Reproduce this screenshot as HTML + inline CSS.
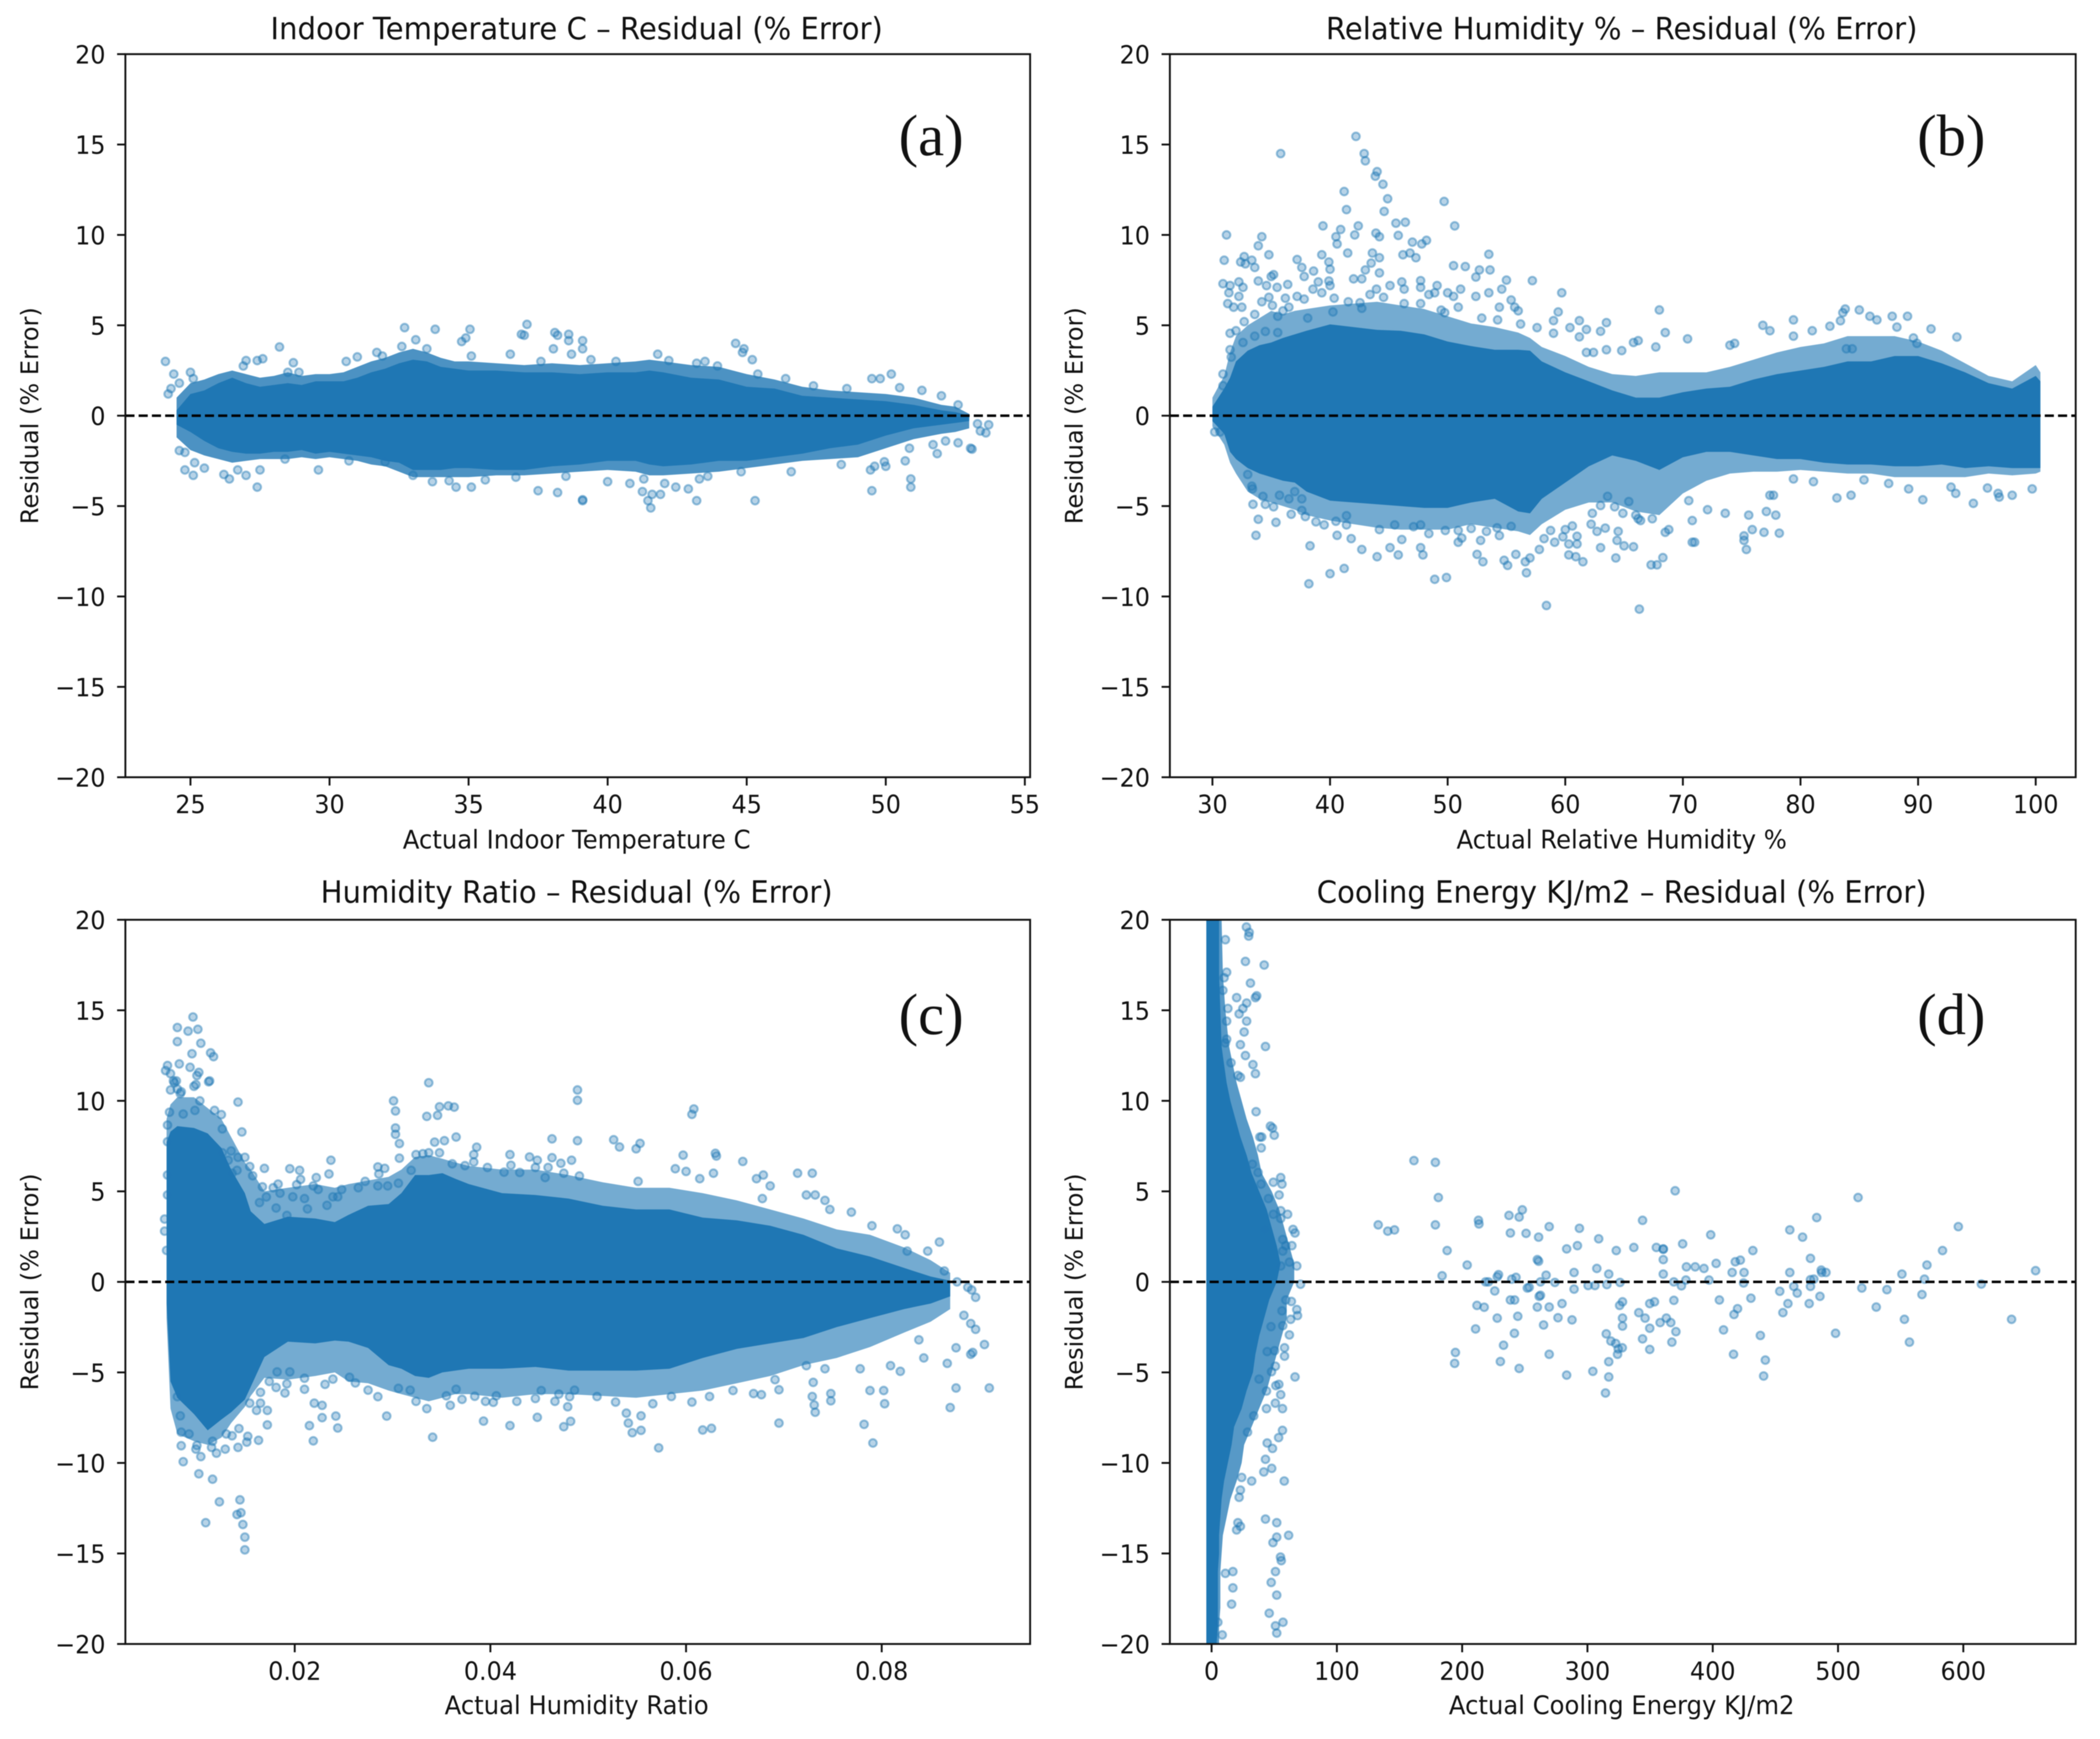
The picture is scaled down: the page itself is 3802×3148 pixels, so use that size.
<!DOCTYPE html>
<html lang="en">
<head>
<meta charset="utf-8">
<title>Residual (% Error) scatter panels</title>
<style>
html,body{margin:0;padding:0;background:#fff;}
svg{display:block;filter:blur(0.9px);}
text{font-family:"DejaVu Sans",sans-serif;fill:#111;}
.panel-letter{font-family:"Liberation Serif",serif;font-size:106px;fill:#111;}
</style>
</head>
<body>
<svg id="chart" xmlns="http://www.w3.org/2000/svg" width="3802" height="3148" viewBox="0 0 3802 3148">
<rect x="0" y="0" width="3802" height="3148" fill="#ffffff"></rect>
</svg>
<script>
/* ---------- shared tick labels ---------- */
const residualTicks = [20,15,10,5,0,-5,-10,-15,-20];

/* ---------- panel (a) indoor temperature ---------- */
const aTicksX = [25,30,35,40,45,50,55];
const aBandX = [24.5,25,25.5,26,26.5,27,27.5,28,28.5,29,29.5,30,30.5,31,31.5,32,32.5,33,33.5,34,34.5,35,36,37,38,39,40,41,41.5,42,43,44,45,46,47,48,49,50,51,52,52.5,53];
const aBandUpper = [0.3,1.2,1.4,1.8,2.1,1.8,1.6,1.7,1.8,1.7,1.9,1.9,1.9,2.1,2.4,2.6,2.9,3.1,3,2.7,2.6,2.5,2.5,2.4,2.4,2.3,2.4,2.4,2.5,2.4,2.1,2,1.6,1.5,1.1,1,0.9,0.8,0.6,0.3,0.2,0];
const aBandLower = [-0.5,-0.9,-1.4,-1.8,-2,-2.1,-2.1,-2,-2,-1.9,-2.1,-2,-2.1,-2.2,-2.3,-2.5,-2.6,-3,-3,-3,-2.9,-2.9,-3,-3,-2.8,-2.7,-2.5,-2.5,-2.7,-2.8,-2.7,-2.5,-2.5,-2.3,-2.1,-1.8,-1.6,-1.1,-0.7,-0.5,-0.4,-0.3];
const aHazeUpper = [1,1.8,2,2.3,2.5,2.3,2.1,2.2,2.4,2.2,2.3,2.3,2.4,2.7,3,3.2,3.5,3.7,3.5,3.2,3,3,2.9,2.8,2.9,2.8,2.9,3,3.1,3,2.8,2.7,2.3,2,1.6,1.4,1.3,1.2,1,0.6,0.5,0.1];
const aHazeLower = [-1.2,-1.9,-2.2,-2.4,-2.6,-2.5,-2.4,-2.4,-2.4,-2.3,-2.4,-2.3,-2.4,-2.5,-2.7,-2.8,-3.1,-3.4,-3.4,-3.4,-3.4,-3.4,-3.3,-3.3,-3.2,-3.1,-3,-3.1,-3.3,-3.3,-3.2,-3.1,-2.9,-2.7,-2.5,-2.4,-2.3,-1.8,-1.3,-1,-0.9,-0.7];
const aOutliers = [[24.1,3],[24.4,2.3],[25,2.4],[25.1,2.05],[24.3,1.5],[24.2,1.2],[24.6,1.8],[26.9,2.75],[27,3.05],[27.4,3.05],[27.6,3.15],[28.2,3.8],[28.7,2.93],[28.5,2.4],[28.9,2.4],[30.6,3],[31,3.25],[31.7,3.5],[31.9,3.3],[32.7,4.87],[32.6,3.83],[33.1,4.2],[33.5,3.7],[33.8,4.78],[34.75,4.1],[34.9,4.3],[35.05,4.78],[35.1,3.3],[36.5,3.4],[36.9,4.5],[37,4.45],[37.1,5.05],[38.05,3.7],[38.1,4.6],[38.2,4.45],[38.6,4.5],[38.6,4.15],[38.7,3.4],[39.1,4.15],[39.1,3.7],[37.6,3],[39.4,3.1],[40.3,3],[41.8,3.4],[42.2,3.05],[43.2,2.9],[43.5,3],[43.95,2.75],[44.6,4],[44.9,3.7],[44.85,3.5],[45.2,3.1],[45.4,2.3],[46.4,2.05],[47.4,1.65],[48.6,1.5],[49.5,2.05],[49.8,2.05],[50.2,2.3],[50.5,1.55],[51.3,1.4],[52,1.1],[52.6,0.6],
[24.6,-1.93],[24.8,-2.03],[24.8,-3],[25.15,-2.6],[25.1,-3.3],[25.5,-2.9],[26.2,-3.25],[26.4,-3.5],[26.7,-3],[27,-3.3],[27.4,-3.95],[27.5,-3],[29.6,-3],[28.4,-2.4],[30.7,-2.5],[32,-2.55],[33,-3.3],[33.7,-3.65],[34.3,-3.6],[34.55,-3.95],[35.1,-3.95],[35.6,-3.55],[36.7,-3.4],[37.5,-4.15],[38.2,-4.25],[38.5,-3.35],[39.1,-4.65],[39.1,-4.7],[40,-3.65],[40.8,-3.75],[41.3,-3.5],[41.25,-4.2],[41.45,-4.7],[41.55,-5.1],[41.6,-4.35],[41.9,-4.35],[42.05,-3.75],[42.45,-3.95],[42.9,-4.05],[43.2,-4.7],[43.3,-3.5],[43.6,-3.35],[45.3,-4.7],[44.8,-3.1],[46.6,-3.1],[48.4,-2.7],[49.45,-3],[49.6,-2.8],[49.95,-2.55],[50,-2.8],[49.5,-4.15],[50.7,-2.5],[50.9,-3.5],[50.9,-3.95],[50.85,-1.8],[51.7,-1.6],[51.85,-2.1],[52.15,-1.4],[52.6,-1.5],[53.05,-1.8],[53.1,-1.85],[53.6,-0.95],[53.7,-0.5],[53.4,-0.85],[53.3,-0.45]];

/* ---------- panel (b) relative humidity ---------- */
const bTicksX = [30,40,50,60,70,80,90,100];
const bBandX = [30,31,31.5,32,33,34,35,36,37,38,40,42,44,46,48,50,52,54,56,57,58,60,62,64,66,68,70,72,74,76,78,80,82,84,86,88,90,92,94,96,98,100,100.4];
const bBandUpper = [0.5,1.5,2.1,3,3.6,3.9,4.05,4.3,4.5,4.7,5.05,4.9,4.75,4.7,4.5,4.1,3.85,3.65,3.65,3.6,3,2.4,1.9,1.4,1,1,1.3,1.5,1.6,2,2.3,2.5,2.7,3,3,3.3,3.3,2.9,2.4,1.8,1.5,2.2,1.9];
const bBandLower = [-0.3,-1,-2,-2.4,-2.9,-3.2,-3.4,-3.6,-3.7,-4.2,-4.7,-4.8,-4.9,-5,-5.1,-5.1,-4.8,-4.6,-5.3,-5.4,-4.6,-3.7,-2.8,-2.2,-2.5,-3,-2.3,-2,-2,-2.2,-2.4,-2.4,-2.6,-2.7,-2.7,-2.8,-2.8,-2.7,-2.9,-2.8,-2.9,-2.9,-2.9];
const bHazeUpper = [1,2.2,3.5,4.4,5,5.4,5.8,5.6,5.8,5.9,6.1,6.2,6.3,6.1,5.9,5.5,5.1,4.9,4.6,4.3,3.8,3.3,2.7,2.3,2.2,2.4,2.4,2.4,2.7,3.1,3.5,3.8,4,4.4,4.4,4.4,4.1,3.6,2.9,2.2,1.9,2.8,2.4];
const bHazeLower = [-0.6,-1.6,-2.6,-3.2,-4.2,-4.6,-4.8,-5,-5.2,-5.5,-5.8,-6,-6.2,-6.3,-6.3,-6.3,-6,-6.2,-6.4,-6.6,-6,-5.2,-4.8,-4.8,-5.3,-5.5,-4.3,-3.6,-3.2,-3.1,-3.1,-3,-3.1,-3.2,-3.2,-3.4,-3.4,-3.4,-3.4,-3.2,-3.3,-3.2,-3.1];
const bUpperFringe = [[35.8,14.5],[42.2,15.45],[42.9,14.5],[43,14.1],[44,13.5],[43.85,13.25],[31.2,10],[34.2,9.9],[33.9,9.4],[34.8,8.9],[31,8.6],[32.7,8.8],[32.4,8.5],[32.8,8.4],[33.35,8.6],[33.6,8.2],[35,7.7],[35.2,7.8],[30.9,7.3],[31.5,7.2],[32.25,7.4],[32.6,7.1],[33.9,7.45],[35.5,7.1],[36.4,7.26],[31.4,6.8],[32.25,6.6],[31.3,6.2],[31.8,6],[32.5,6],[34.6,7.2],[37.2,8.64],[37.6,8.2],[37.8,7.7],[38.6,8],[39.3,8.9],[39.9,8.5],[40,8.1],[39,7.4],[39.9,7.45],[40,7.2],[38.55,7],[39.3,6.8],[40.35,6.5],[37.2,6.6],[37.8,6.45],[36.2,6.5],[41.55,6.3],[42.55,6.25],[42.7,5.94],[40.25,5.74],[39.4,10.5],[40.9,10.3],[42.4,10.5],[40.5,9.9],[40.6,9.5],[42.1,10],[43.9,10.1],[44.2,9.9],[41.2,12.4],[41.4,11.4],[44.5,12.8],[44.9,12],[44.6,11.3],[45.6,10.65],[46.4,10.7],[45.8,9.97],[49.7,11.85],[50.6,10.5],[47,9.6],[47.8,9.5],[48.2,9.7],[46.8,9],[46.2,8.9],[47.3,8.74],[43.6,9],[44.2,8.74],[41.5,9],[43.5,8.44],[43,8.06],[44.2,7.9],[42,7.57],[42.7,7.57],[53.5,8.93],[50.5,8.3],[51.5,8.25],[52.7,8.06],[53.6,8.06],[52.4,7.67],[55,7.5],[57.2,7.47],[59.7,6.8],[59.4,5.74],[59,5.26],[60.4,4.87],[61.2,5.26],[63.5,5.15],[61.8,4.77],[63,4.67],[59,4.56],[61.2,4.36],[57.6,4.87],[56.2,5.07],[63.5,3.65],[64.8,3.6],[61.8,3.5],[62.4,3.5],[54.6,7],[52.4,6.6],[53.5,6.8],[55.4,6.4],[54.4,6],[55.7,6],[56,5.8],[54.25,5.3],[49.1,7.2],[47.7,7.47],[47.7,7.1],[46.1,7.4],[45.1,7.2],[46.3,7],[43.95,7],[43.4,6.7],[44.55,6.55],[51.1,7],[50,6.8],[50.5,6.6],[48.4,6.7],[48.9,6.8],[52.9,5.4],[50.9,6],[49.45,5.84],[49.75,5.7],[47.7,6.2],[46.3,6.2],[34.8,6.55],[34.2,6.3],[35.1,6.1],[36,5.8],[35.55,5.5],[36.5,6],[33.6,5.6],[32.7,5.2],[31.5,4.56],[32,4.7],[33.6,4.4],[34.5,4.66],[32.6,4.05],[31.5,3.65],[31.6,3.24],[30.9,2.3],[30.9,1.66],[35.55,4.6],[38.1,5.4],
[68,5.85],[68.5,4.6],[70.4,4.25],[66.2,4.15],[65.8,4.05],[67.7,3.8],[79.4,5.3],[76.8,5],[77.4,4.7],[81,4.7],[82.5,4.95],[83.4,5.25],[83.8,5.9],[83.6,5.7],[85,5.85],[85.9,5.5],[86.5,5.3],[87.8,5.5],[89.1,5.5],[88.2,4.9],[91.1,4.8],[93.3,4.35],[89.6,4.3],[89.9,4],[74.4,4],[74,3.9],[79.4,4.4],[83.9,3.7],[84.4,3.7]];
const bLowerFringe = [[30.2,-0.9],[30.65,-0.9],[33,-3.25],[33.35,-3.9],[33.4,-4.05],[34.3,-4.46],[33.45,-4.9],[34.5,-4.9],[35.2,-5.04],[35.7,-4.4],[36.5,-4.6],[37.6,-4.6],[37,-4.2],[33.9,-5.73],[35.4,-5.9],[36.7,-5.45],[37.6,-5.24],[37.9,-5.58],[33.7,-6.62],[38.3,-7.2],[38.2,-9.3],[40,-8.74],[41.2,-8.45],[38.8,-5.87],[39.5,-6.04],[40.5,-5.84],[41.4,-6.04],[41.4,-5.53],[40.6,-6.62],[41.8,-6.8],[42.7,-7.4],[44,-7.8],[44.2,-6.3],[45.1,-7.3],[45.8,-7.7],[45.5,-6.04],[46.1,-6.85],[47.1,-6.14],[47.7,-6.04],[48.4,-6.52],[47.7,-7.3],[47.9,-7.7],[48.9,-9.05],[49.9,-8.95],[49.8,-6.35],[50.9,-6.35],[50.9,-7],[51.2,-6.77],[52,-6.24],[52.8,-6.9],[52.5,-7.67],[53,-8.08],[53.3,-6.4],[54.4,-6.63],[54.2,-6.2],[55.4,-6.12],[54.8,-8],[55.1,-8.28],[55.8,-7.67],[56.6,-8.08],[57,-7.87],[57.8,-7.4],[56.7,-8.69],[58.4,-10.5],[58.2,-6.8],[59.1,-7],[58.75,-6.35],[60,-6.3],[60.6,-6.1],[59.8,-6.7],[61,-6.67],[60.3,-7.1],[61,-7.1],[60.3,-7.7],[60.9,-7.8],[61.5,-8.08],[63,-7.3],[64.3,-7.87],[64.4,-6.9],[64.5,-6.4],[65,-7.2],[63.4,-6.22],[62.7,-6.4],[62.2,-6],[63,-4.97],[64.2,-5.04],[64.9,-5.4],[62.3,-5.4],[63.6,-4.46],
[66.3,-10.7],[65.8,-7.25],[67.3,-8.25],[67.8,-8.25],[68.3,-7.85],[70.8,-7],[71,-7],[75.4,-7.4],[75.2,-6.9],[75.2,-6.65],[76.9,-6.45],[75.9,-6.3],[78.2,-6.5],[77.9,-5.5],[77.1,-5.3],[75.6,-5.5],[73.6,-5.4],[77.4,-4.4],[77.7,-4.4],[72.1,-5.2],[70.8,-5.8],[70.5,-4.7],[83.1,-4.55],[84.3,-4.4],[90.4,-4.65],[89.2,-4.05],[94.7,-4.85],[96.9,-4.5],[96.8,-4.3],[98,-4.4],[99.7,-4.05],[93.2,-4.3],[95.9,-4],[92.8,-3.95],[79.4,-3.5],[81.1,-3.65],[85.4,-3.55],[87.5,-3.75],[68.8,-6.3],[68.5,-6.45],[67.4,-5.7],[66.4,-5.8],[66.2,-5.7],[66,-5.5],[65.4,-4.75]];

/* ---------- panel (c) humidity ratio ---------- */
const cTicksX = ["0.02","0.04","0.06","0.08"];
const cBandX = [0.0069,0.0073,0.0080,0.0097,0.0111,0.0125,0.0135,0.0149,0.0155,0.0169,0.0193,0.0221,0.0241,0.0255,0.0275,0.0296,0.0309,0.0323,0.0337,0.0351,0.0364,0.0378,0.0412,0.0446,0.0480,0.0515,0.0549,0.0583,0.0617,0.0652,0.0686,0.0720,0.0754,0.0788,0.0823,0.0850,0.0870];
const cBandUpper = [7.7,8.3,8.6,8.5,8.2,7.4,6.2,4.9,3.9,3.2,3.6,3.5,3.3,3.7,4.2,4.3,4.9,5.9,5.9,6,5.7,5.4,4.9,4.8,4.6,4.2,4,4,3.55,3.4,3.1,2.6,1.85,1.4,0.77,0.3,0.06];
const cBandLower = [-1.2,-5.5,-6.4,-7.3,-8.2,-7.6,-7.2,-6.5,-5.8,-4.15,-3.3,-3.4,-3.24,-3.3,-3.65,-4.6,-4.8,-5.2,-5.3,-5,-4.9,-4.8,-4.8,-4.7,-4.9,-4.9,-4.9,-4.8,-4.2,-3.7,-3.4,-3.1,-2.5,-2,-1.5,-1.2,-0.8];
const cHazeUpper = [9,9.8,10.2,10.2,9.6,9,8,6.6,6.2,5,5.2,5.4,5.2,5.4,5.6,5.8,6.2,6.9,7,6.8,6.6,6.4,6.2,6.2,5.9,5.5,5.2,5.2,4.9,4.5,4,3.5,2.9,2.6,1.9,1.2,0.5];
const cHazeLower = [-2,-7,-8.4,-8.8,-9,-8.6,-7.8,-6.9,-6.3,-5.3,-5.4,-5.2,-5,-5.5,-5.6,-6,-6.2,-6.4,-6.6,-6.4,-6.2,-6.2,-6.4,-6.2,-6.2,-6.3,-6.4,-6.2,-6,-5.6,-5.2,-4.6,-4.2,-3.6,-2.8,-2.2,-1.5];
const cUpperFringe = [[0.0068,11.67],[0.007,11.95],[0.0082,12.04],[0.0073,11.5],[0.0077,11],[0.008,10.65],[0.0084,10.5],[0.008,14.05],[0.008,13.27],[0.0091,13.85],[0.0096,14.63],[0.0101,13.95],[0.0104,13.18],[0.0095,12.6],[0.0093,11.85],[0.0102,11.57],[0.01,11.4],[0.0097,10.8],[0.0112,11.05],[0.0114,12.65],[0.0117,12.44],
[0.0142,9.93],[0.0146,8.28],[0.0125,9.24],[0.0118,9.47],[0.0126,8.45],[0.0135,7.23],[0.0142,6.88],[0.0149,6.88],[0.0126,7.13],[0.0132,6.72],[0.0141,6.16],[0.0136,6],[0.0154,6.37],[0.0169,6.27],[0.0157,5.86],[0.0167,5.25],[0.0171,4.69],[0.0164,4.38],[0.0181,4.08],[0.0178,5.2],[0.0183,5.4],[0.0185,4.9],[0.0195,6.25],[0.0205,6.16],[0.0206,5.66],[0.0202,5.37],[0.0222,5.76],[0.0219,5.3],[0.0224,5.1],[0.0237,6.72],[0.0235,5.96],[0.0248,5.1],[0.0239,4.7],[0.0244,4.7],[0.0198,4.7],[0.021,4.6],[0.0213,4.03],[0.0233,4.23],[0.0192,3.67],[0.0265,5.2],[0.0272,5.55],[0.0285,5.3],[0.0295,5.3],[0.0306,5.45],[0.0286,5.96],[0.0292,6.27],[0.0285,6.35],[0.0301,10],[0.0303,9.44],[0.0303,8.5],[0.0303,8.15],[0.0307,7.64],[0.0307,6.83],[0.0319,6.16],[0.0324,7.03],[0.0331,7.08],[0.0337,7.13],[0.0337,11],[0.0335,9.14],[0.0346,9.2],[0.0348,9.67],[0.0357,9.72],[0.0363,9.65],[0.0343,7.72],[0.0353,7.8],[0.0365,8],[0.0348,7.13],[0.0361,6.52],[0.0374,6.42],[0.0383,6.62],[0.0386,7.44],[0.0383,7.03],[0.0397,6.32],[0.042,7.03],[0.0421,6.44],[0.0414,6.06],[0.043,6.04],[0.044,6.9],[0.0448,6.72],[0.0463,7.9],[0.0463,6.86],[0.0472,6.55],[0.0483,6.72],[0.0459,6.32],[0.0446,6.32],[0.0456,5.76],[0.0475,6],[0.0489,7.8],[0.0489,10.03],[0.0489,10.6],
[0.0067,3.47],[0.0067,2.8],[0.0069,1.74],[0.007,8.66],[0.0072,9.37],[0.0073,10.6],[0.0076,11.1],[0.0079,11.1],[0.0083,10.4],[0.0099,10.9],[0.0113,11.1],[0.0086,9.27],[0.0098,9.47],[0.0103,10],[0.007,7.74],[0.007,5.9],[0.007,4.8],
[0.0491,5.85],[0.0526,7.85],[0.0532,7.45],[0.0549,7.35],[0.0553,7.65],[0.0551,5.55],[0.0597,7],[0.0606,9.25],[0.0608,9.55],[0.0589,6.25],[0.06,6.1],[0.0614,5.7],[0.0628,6],[0.063,7.1],[0.0631,6.95],[0.0658,6.65],[0.0672,5.7],[0.0679,5.9],[0.0686,5.3],[0.0678,4.6],[0.0714,6],[0.0729,6],[0.0723,4.8],[0.0732,4.8],[0.0742,4.5],[0.0747,4],[0.0769,3.85],[0.079,3.1],[0.0816,2.93],[0.0824,2.6],[0.0826,1.7],[0.0847,1.7],[0.0859,2.2],[0.0864,0.6],[0.0877,0],[0.0888,-0.3],[0.0892,-0.45],[0.0896,-0.85]];
const cLowerFringe = [[0.0080,-6.34],[0.0083,-7.4],[0.0084,-8.3],[0.0092,-8.4],[0.0084,-9.05],[0.0086,-9.93],[0.0102,-10.6],[0.0116,-10.9],[0.01,-9.03],[0.0099,-9.24],[0.0104,-9.65],[0.0115,-9.14],[0.012,-9.46],[0.0129,-9.24],[0.0142,-9.14],[0.0151,-8.85],[0.0152,-8.53],[0.0163,-8.75],[0.0172,-7.9],[0.0172,-7.1],[0.0161,-7.1],[0.0165,-6.7],[0.0154,-6.7],[0.0143,-8.1],[0.0136,-8.5],[0.013,-8.4],[0.0116,-8.8],[0.0181,-5.83],[0.0174,-5.5],[0.0165,-6.1],[0.0192,-5.63],[0.019,-6.14],[0.0182,-4.97],[0.0195,-4.97],[0.021,-5.93],[0.021,-5.32],[0.022,-6.7],[0.0228,-6.82],[0.0228,-7.5],[0.0242,-7.41],[0.0244,-8.07],[0.0215,-7.94],[0.0219,-8.78],[0.0231,-5.66],[0.0239,-5.37],[0.0256,-5.27],[0.0262,-5.58],[0.0275,-5.98],[0.0285,-6.34],[0.0294,-7.41],[0.0306,-5.88],[0.0318,-5.98],[0.0324,-6.6],[0.0335,-7],[0.0341,-8.58],[0.0355,-6.29],[0.0359,-6.82],[0.0365,-5.93],[0.0371,-6.49],[0.0384,-6.32],[0.0395,-6.6],[0.0403,-6.65],[0.0406,-6.29],[0.0393,-7.69],[0.042,-7.94],[0.0427,-6.6],[0.0446,-6.44],[0.0452,-6],[0.0448,-7.48],[0.0466,-6.6],[0.047,-6.2],[0.0479,-6.9],[0.0475,-8],[0.0482,-7.7],[0.0481,-6.34],[0.0486,-5.98],
[0.0109,-13.3],[0.0123,-12.15],[0.0144,-12.04],[0.0141,-12.85],[0.0145,-12.75],[0.0147,-13.4],[0.0149,-14.1],[0.0149,-14.8],
[0.0509,-6.33],[0.0528,-6.64],[0.0539,-7.25],[0.0541,-7.8],[0.0545,-8.33],[0.0554,-8.2],[0.0554,-7.4],[0.0566,-6.73],[0.0572,-9.17],[0.0585,-6.33],[0.0606,-6.64],[0.0617,-8.18],[0.0626,-8.09],[0.0624,-6.33],[0.0648,-6],[0.0669,-6.17],[0.0677,-6.23],[0.0695,-7.8],[0.0695,-5.96],[0.0691,-5.4],[0.073,-5.55],[0.0729,-6.33],[0.0732,-7.2],[0.0731,-6.8],[0.0748,-6.17],[0.0748,-6.57],[0.0723,-4.63],[0.0742,-4.8],[0.0778,-4.8],[0.0782,-7.87],[0.0791,-8.9],[0.0788,-6],[0.0802,-6],[0.0803,-6.73],[0.0809,-4.63],[0.0819,-4.94],[0.0843,-4.2],[0.0838,-3.2],[0.087,-6.94],[0.0867,-4.5],[0.0876,-5.86],[0.0876,-3.64],[0.0891,-4],[0.0893,-3.9],[0.0905,-3.46],[0.091,-5.86],[0.0896,-2.62],[0.0891,-2.3],[0.0884,-1.85]];

/* ---------- panel (d) cooling energy: band is vertical, indexed by residual ---------- */
const dTicksX = [0,100,200,300,400,500,600];
const dBandY = [20,17,15,13,12,11,10,9,8,7,6,5,4,3,2,1,0,-1,-2,-3,-4,-5,-6,-7,-8,-9,-10,-11,-12,-13,-14,-15,-16,-17,-18,-19,-20];
const dBandLeft = [-4.2,-4.2,-4.2,-4.2,-4.2,-4.2,-4.2,-4.2,-4.2,-4.2,-4.2,-4.2,-4.2,-4.2,-4.2,-4.2,-4.2,-4.2,-4.2,-4.2,-4.2,-4.2,-4.2,-4.2,-4.2,-4.2,-4.2,-4.2,-4.2,-4.2,-4.2,-4.2,-4.2,-4.2,-4.2,-4.2,-4.2];
const dBandRight = [6,6,7,8,10,12,15,19,23,28,32,38,44,48,52,55,52,46,42,38,35,33,28,24,18,16,13,10,8,7,6,6,5,5,5,5,4];
const dHazeRight = [8,9,11,14,17,20,24,28,33,37,40,48,54,58,62,66,66,60,60,56,52,48,44,38,32,26,24,20,15,12,9,8,7,7,7,6,6];
const dFarPoints = [[133,3.15],[140.6,2.8],[146,2.87],[161.5,6.7],[178.6,6.6],[178.6,3.15],[181,4.66],[184,0.34],[188,1.73],[194.6,-3.9],[194,-4.5],[204,0.93],[210.7,-2.6],[211.8,-1.3],[213,3.4],[213.4,3.2],[217.6,-1.4],[218.7,0],[221,0],[226,-0.5],[228,0.28],[229,0.4],[228,-2],[230.5,-4.4],[233,-3.5],[237.4,3.67],[238.5,2.7],[238.5,-1],[239.6,0.15],[241.9,-1],[243,0.25],[241.7,-2.84],[244.4,-1.9],[245.5,3.58],[248,3.98],[251,2.68],[245.5,-4.78],[252,-0.34],[253.5,-0.3],[260,-1.39],[260,1.23],[261,1.14],[261,2.47],[261.5,-0.8],[262.5,-0.74],[262.5,0],[265,-2.38],[267,0.37],[269.5,3.05],[269.5,-1.39],[269.5,-4],[274,-0.03],[276.5,-1.98],[279.7,-1.2],[283.4,1.82],[283.4,-5.15],[287.7,-2.1],[289.3,0.52],[289.3,-0.4],[292,2],[293.6,2.96],[300.5,-0.2],[304.3,-4.94],[306,-0.2],[307.5,0.74],[309,2.38],[315,-2.87],[315.5,-0.15],[317,0.43],[318.7,-3.27],[317,-4.41],[317,-5.25],[314.4,-6.14],[322.5,-3.4],[323,1.73],[324.6,-3.7],[324,-4],[326,-0.03],[325.7,-1.3],[328,-1.1],[328,-2],[328,-2.44],[327.8,-3.64],[337,1.9],[341,-1.7],[344,3.4],[346,-2],[344,-3.15],[349.7,-2.56],[349.7,-1.2],[353.5,-1.1],[349.7,-3.73],[355,1.9],[358,-2.25],[360.5,1.82],[360.5,1.8],[360.5,1.23],[360.5,0.43],[363,-2],[366.5,-2.25],[367.4,-3.33],[369,-1.02],[369,0],[370,5.03],[370.6,-2.75],[375,-0.22],[376,2.1],[378.6,0.1],[379,0.83],[386,0.83],[393,0.74],[397,0.1],[398.4,2.6],[402.7,1.02],[405.3,-1],[408.6,-2.65],[415.5,0.52],[416.6,-4],[417,-1.8],[418,1.11],[419.8,-1.48],[422,1.2],[424.6,-0.06],[425,0.52],[430.5,-0.9],[432,1.73],[438,-2.96],[440.6,-5.2],[442,-4.32],[453.5,-0.52],[456,-1.7],[460,-1.2],[461.5,0.52],[461.5,2.87],[464.7,-0.25],[467.4,-0.62],[471.7,2.47],[477,-1.2],[478,1.3],[478,0.12],[478,-0.25],[480.7,0.15],[483,3.55],[485.6,-0.8],[486.6,0.65],[487,0.52],[490.4,0.52],[498,-2.84],[516,4.66],[519,-0.34],[530.5,-1.39],[539,-0.43],[551,0.43],[553,-2.07],[557,-3.33],[567,-0.7],[569,0.15],[571,0.93],[583.4,1.73],[596,3.05],[614.4,-0.12],[638.5,-2.07],[657.7,0.62]];
const dNearPoints = [[27.8,19.6],[30,19.3],[29.6,19.1],[11,18.9],[27,17.7],[42,17.5],[12,17.1],[10,16.8],[31,16.5],[9,16.1],[20,15.7],[36,15.8],[35,15.7],[28,15.4],[25,15.1],[13,15.1],[22,14.8],[28,14.4],[12,14.4],[26,13.8],[12,13.4],[11,13.2],[23,13.1],[43,13],[27,12.5],[15.5,12.1],[35,11.5],[33,12],[21,11.4],[23,11.3],[35.5,9.4],[47,8.6],[48.6,8.5],[50,8.1],[38.5,8],[40,8],[39.6,7.4],
[32.6,6.5],[37.1,6.04],[55.2,5.76],[49.3,5.5],[56.2,5.4],[39.5,5.4],[53.9,4.8],[45.4,4.6],[55.2,3.93],[49.3,3.73],[60.7,3.73],[55.2,3.5],[65,2.9],[66.6,2.7],[42.4,2.9],[56.8,2.34],[64.1,2],[59.2,2],[56.8,1.7],[62.1,1.09],[68,0.88],[55.2,0.88],[71,-0.13],[59.2,-1],[63.7,-1.08],[68,-1.53],[68.6,-1.86],[63.1,-2.07],[56.2,-1.6],[47.4,-2.47],[56.8,-2.42],[62.1,-2.93],[58.2,-3.64],[58.2,-4.1],[50.3,-3.8],[44.4,-3.85],[66.6,-5.25],[50.9,-4.66],[47.8,-4.96],[37.9,-5.37],[53.7,-5.66],[51.3,-5.73],[43.8,-6.03],[55.2,-6.23],[50.9,-6.7],[56.6,-7],[43.8,-7],[33.6,-7.4],[56.6,-8.2],[28.7,-8.3],
[53.5,-8.6],[48.6,-9.2],[44.4,-8.9],[43,-9.8],[41.7,-10.5],[48,-10.3],[58,-11],[32,-11],[24,-10.8],[23,-11.5],[22,-11.9],[43,-13.1],[52,-13.3],[61.5,-14],[52,-14.1],[49,-14.4],[55,-15.2],[55.6,-15.4],[51,-16],[47.6,-16.6],[52,-17.3],[46,-18.3],[57,-18.8],[51,-19],[52,-19.4],[21,-13.3],[23,-13.5],[20,-13.7],[17,-16],[11,-16.1],[17,-16.9],[16,-17.8],[8.5,-19.5],[5,-18.8]];

/* ---------- drawing ---------- */
const SVGNS = 'http://www.w3.org/2000/svg';
const root = document.getElementById('chart');
const COLOR = '#1f77b4';
const TEXT_SQUEEZE = 0.95;

function node(parent, tag, attrs) {
  const el = document.createElementNS(SVGNS, tag);
  for (const k in attrs) el.setAttribute(k, attrs[k]);
  parent.appendChild(el);
  return el;
}
function linear(d0, d1, r0, r1) {
  return function (v) { return r0 + (v - d0) * (r1 - r0) / (d1 - d0); };
}
function fmtTick(v) {
  return String(v).replace('-', '\u2212');
}
function ringPath(pts) {
  return 'M' + pts.map(function (p) { return p[0].toFixed(1) + ' ' + p[1].toFixed(1); }).join('L') + 'Z';
}
function squeezedText(parent, x, y, anchor, size, content) {
  const t = node(parent, 'text', {
    x: 0, y: 0, 'text-anchor': anchor, 'font-size': size,
    transform: 'translate(' + x + ' ' + y + ') scale(' + TEXT_SQUEEZE + ' 1)'
  });
  t.textContent = content;
  return t;
}
function horizontalBand(g, xs, up, lo, sx, sy, opacity, name) {
  const pts = [];
  xs.forEach(function (x, i) { pts.push([sx(x), sy(up[i])]); });
  for (let i = xs.length - 1; i >= 0; i--) pts.push([sx(xs[i]), sy(lo[i])]);
  const el = node(g, 'path', {d: ringPath(pts), fill: COLOR, 'fill-opacity': opacity});
  
  
}
function verticalBand(g, ys, left, right, sx, sy, opacity, name) {
  const pts = [];
  ys.forEach(function (y, i) { pts.push([sx(right[i]), sy(y)]); });
  for (let i = ys.length - 1; i >= 0; i--) pts.push([sx(left[i]), sy(ys[i])]);
  const el = node(g, 'path', {d: ringPath(pts), fill: COLOR, 'fill-opacity': opacity});
  
  
}

function drawPanel(p) {
  const L = p.left, R = p.right, T = p.top, B = p.bottom;
  const sx = linear(p.xMin, p.xMax, L, R);
  const sy = linear(-20, 20, B, T);

  const g = node(root, 'g', {});
  
  

  const clip = node(root, 'clipPath', {id: p.id + '-clip'});
  node(clip, 'rect', {x: L, y: T, width: R - L, height: B - T});

  const plot = node(g, 'g', {'clip-path': 'url(#' + p.id + '-clip)'});
  
  

  p.band(plot, sx, sy);

  p.points.forEach(function (pt) {
    const c = node(plot, 'circle', {
      cx: sx(pt[0]).toFixed(1), cy: sy(pt[1]).toFixed(1), r: 7,
      fill: COLOR, 'fill-opacity': 0.32,
      stroke: COLOR, 'stroke-opacity': 0.45, 'stroke-width': 3.6
    });
    
    
  });

  const zero = node(g, 'line', {
    x1: L, x2: R, y1: sy(0), y2: sy(0), stroke: '#000', 'stroke-width': 4.4, 'stroke-dasharray': '16.5 7.5'
  });
  
  

  const frame = node(g, 'rect', {x: L, y: T, width: R - L, height: B - T, fill: 'none', stroke: '#111', 'stroke-width': 3.4});
  
  

  residualTicks.forEach(function (v) {
    const y = sy(v);
    const t = node(g, 'line', {x1: L - 15, x2: L, y1: y, y2: y, stroke: '#111', 'stroke-width': 3.4});
    
    
    const lab = squeezedText(g, L - 36, y + 17, 'end', 45.5, fmtTick(v));
    
    
  });
  p.xTicks.forEach(function (v) {
    const x = sx(Number(v));
    const t = node(g, 'line', {x1: x, x2: x, y1: B, y2: B + 15, stroke: '#111', 'stroke-width': 3.4});
    
    
    const lab = squeezedText(g, x, B + 65, 'middle', 45.5, String(v));
    
    
  });

  const title = squeezedText(g, (L + R) / 2 - 2, T - p.titleGap, 'middle', 55.5, p.title);
  
  

  const xl = squeezedText(g, (L + R) / 2 - 2, B + p.xLabelGap, 'middle', 46.3, p.xLabel);
  
  

  const yx = L - 158, yy = (T + B) / 2;
  const yl = node(g, 'text', {x: yx, y: yy, 'text-anchor': 'middle', 'font-size': 43.5, transform: 'rotate(-90 ' + yx + ' ' + yy + ')'});
  yl.textContent = 'Residual (% Error)';
  
  

  const letter = node(g, 'text', {x: p.letterX, y: p.letterY, 'class': 'panel-letter'});
  letter.textContent = p.letter;
  
  
}

drawPanel({
  id: 'temperature', title: 'Indoor Temperature C \u2013 Residual (% Error)', xLabel: 'Actual Indoor Temperature C',
  left: 227, right: 1865, top: 98, bottom: 1407, xMin: 22.66, xMax: 55.19, titleGap: 27, xLabelGap: 129,
  xTicks: aTicksX, points: aOutliers, letter: '(a)', letterX: 1627, letterY: 281,
  band: function (g, sx, sy) {
    horizontalBand(g, aBandX, aHazeUpper, aHazeLower, sx, sy, 0.8, 'temperature-residual-fringe');
    horizontalBand(g, aBandX, aBandUpper, aBandLower, sx, sy, 1, 'temperature-residual-band');
  }
});
drawPanel({
  id: 'humidity', title: 'Relative Humidity % \u2013 Residual (% Error)', xLabel: 'Actual Relative Humidity %',
  left: 2118, right: 3758, top: 98, bottom: 1407, xMin: 26.38, xMax: 103.4, titleGap: 27, xLabelGap: 129,
  xTicks: bTicksX, points: bUpperFringe.concat(bLowerFringe), letter: '(b)', letterX: 3471, letterY: 281,
  band: function (g, sx, sy) {
    horizontalBand(g, bBandX, bHazeUpper, bHazeLower, sx, sy, 0.62, 'humidity-residual-fringe');
    horizontalBand(g, bBandX, bBandUpper, bBandLower, sx, sy, 1, 'humidity-residual-band');
  }
});
drawPanel({
  id: 'ratio', title: 'Humidity Ratio \u2013 Residual (% Error)', xLabel: 'Actual Humidity Ratio',
  left: 227, right: 1865, top: 1665, bottom: 2976, xMin: 0.00269, xMax: 0.09517, titleGap: 31, xLabelGap: 127,
  xTicks: cTicksX, points: cUpperFringe.concat(cLowerFringe), letter: '(c)', letterX: 1627, letterY: 1872,
  band: function (g, sx, sy) {
    horizontalBand(g, cBandX, cHazeUpper, cHazeLower, sx, sy, 0.62, 'ratio-residual-fringe');
    horizontalBand(g, cBandX, cBandUpper, cBandLower, sx, sy, 1, 'ratio-residual-band');
  }
});
drawPanel({
  id: 'cooling', title: 'Cooling Energy KJ/m2 \u2013 Residual (% Error)', xLabel: 'Actual Cooling Energy KJ/m2',
  left: 2118, right: 3758, top: 1665, bottom: 2976, xMin: -33.3, xMax: 689.7, titleGap: 31, xLabelGap: 127,
  xTicks: dTicksX, points: dFarPoints.concat(dNearPoints), letter: '(d)', letterX: 3471, letterY: 1872,
  band: function (g, sx, sy) {
    verticalBand(g, dBandY, dBandLeft, dHazeRight, sx, sy, 0.75, 'cooling-residual-fringe');
    verticalBand(g, dBandY, dBandLeft, dBandRight, sx, sy, 1, 'cooling-residual-band');
  }
});
</script>
</body>
</html>
